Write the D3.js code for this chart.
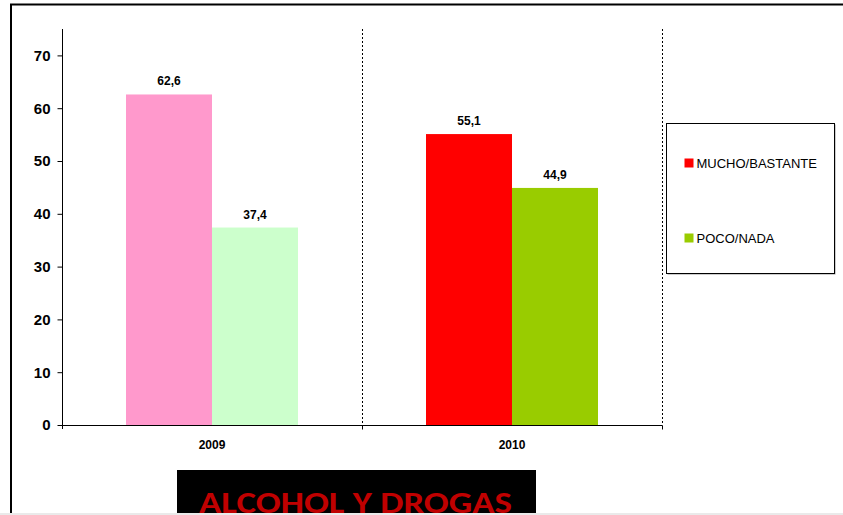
<!DOCTYPE html>
<html>
<head>
<meta charset="utf-8">
<script src="https://cdn.jsdelivr.net/npm/d3@7"></script>
<style>
  body { margin: 0; background: #fff; }
  svg { display: block; font-family: "Liberation Sans", Arial, sans-serif; }
</style>
</head>
<body>
<script>
// data
const categories = ["2009", "2010"];
const series = ["MUCHO/BASTANTE", "POCO/NADA"];
const muchoValues = [62.6, 55.1];
const pocoValues = [37.4, 44.9];
const yTicks = [0, 10, 20, 30, 40, 50, 60, 70];
const titleText = "ALCOHOL Y DROGAS";

// colours (2009 bars use lighter tones, legend shows 2010 tones)
const barColors = {
  "2009": ["#FF99CC", "#CCFFCC"],
  "2010": ["#FF0000", "#99CC00"]
};
const legendColors = ["#FF0000", "#99CC00"];

const width = 843, height = 515;
const plot = {left: 62, right: 662, top: 29, bottom: 425};

const svg = d3.select("body")
    .append("svg")
      .attr("width", width)
      .attr("height", height);

svg.append("rect")
    .attr("width", width)
    .attr("height", height)
    .attr("fill", "#fff");

// outer frame (top + left borders only are visible)
svg.append("path")
    .attr("d", "M11,515 V4.5 H843")
    .attr("fill", "none")
    .attr("stroke", "#000")
    .attr("stroke-width", 2);

// scales
const xScale = d3.scaleBand()
    .domain(categories)
    .range([plot.left, plot.right])
    .paddingInner(0)
    .paddingOuter(0);

const xSub = d3.scaleBand()
    .domain(series)
    .range([64, xScale.bandwidth() - 64]);

const yScale = d3.scaleLinear()
    .domain([0, 75])
    .range([plot.bottom, plot.top]);

const fmt = v => d3.format(".1f")(v).replace(".", ",");

const rows = categories.map((c, i) => ({
  category: c,
  values: [muchoValues[i], pocoValues[i]]
}));

// dotted separators at category ends
svg.append("g")
    .selectAll("line")
    .data(categories)
    .enter()
    .append("line")
      .attr("x1", d => xScale(d) + xScale.bandwidth() + 0.5)
      .attr("x2", d => xScale(d) + xScale.bandwidth() + 0.5)
      .attr("y1", plot.top)
      .attr("y2", plot.bottom)
      .attr("stroke", "#000")
      .attr("stroke-width", 1)
      .attr("stroke-dasharray", "2,2");

// bars
const groups = svg.append("g")
    .selectAll("g")
    .data(rows)
    .enter()
    .append("g")
      .attr("transform", d => "translate(" + xScale(d.category) + ",0)");

groups.selectAll("rect")
    .data(d => d.values.map((v, j) => ({cat: d.category, key: series[j], value: v, j: j})))
    .enter()
    .append("rect")
      .attr("x", d => xSub(d.key))
      .attr("y", d => yScale(d.value))
      .attr("width", xSub.bandwidth())
      .attr("height", d => yScale(0) - yScale(d.value))
      .attr("fill", d => barColors[d.cat][d.j]);

groups.selectAll("text")
    .data(d => d.values.map((v, j) => ({key: series[j], value: v})))
    .enter()
    .append("text")
      .attr("x", d => xSub(d.key) + xSub.bandwidth() / 2)
      .attr("y", d => yScale(d.value) - 9)
      .attr("text-anchor", "middle")
      .attr("font-size", 12)
      .attr("font-weight", "bold")
      .attr("fill", "#000")
      .text(d => fmt(d.value));

// y axis
const yAxis = svg.append("g")
    .attr("transform", "translate(" + (plot.left + 0.5) + ",0)")
    .call(d3.axisLeft(yScale).tickValues(yTicks).tickSize(5).tickPadding(7));
yAxis.select(".domain")
    .attr("d", "M0," + plot.top + "V" + (plot.bottom + 4));
yAxis.selectAll("text")
    .attr("font-size", 15)
    .attr("font-weight", "bold")
    .attr("font-family", "'Liberation Sans', Arial, sans-serif")
    .attr("fill", "#000");

// x axis
const xAxis = svg.append("g")
    .attr("transform", "translate(0," + (plot.bottom + 0.5) + ")")
    .call(d3.axisBottom(xScale).tickSize(0).tickPadding(15));
xAxis.select(".domain")
    .attr("d", "M" + plot.left + ",0H" + (plot.right + 0.5));
xAxis.selectAll("text")
    .attr("font-size", 12)
    .attr("font-weight", "bold")
    .attr("font-family", "'Liberation Sans', Arial, sans-serif")
    .attr("fill", "#000");
// small ticks at category boundaries
xAxis.append("g")
    .selectAll("line")
    .data(categories)
    .enter()
    .append("line")
      .attr("x1", d => xScale(d) + xScale.bandwidth() + 0.5)
      .attr("x2", d => xScale(d) + xScale.bandwidth() + 0.5)
      .attr("y1", 0)
      .attr("y2", 4)
      .attr("stroke", "#000");

// legend
const legend = svg.append("g")
    .attr("transform", "translate(666.5,123.5)");
legend.append("rect")
    .attr("x", 1).attr("y", 1)
    .attr("width", 168).attr("height", 150)
    .attr("fill", "#999");
legend.append("rect")
    .attr("width", 168).attr("height", 150)
    .attr("fill", "#fff")
    .attr("stroke", "#000")
    .attr("stroke-width", 1);
const legendItems = legend.selectAll("g.item")
    .data(series)
    .enter()
    .append("g")
      .attr("class", "item")
      .attr("transform", (d, i) => "translate(18," + (35 + i * 75) + ")");
legendItems.append("rect")
    .attr("width", 9).attr("height", 9)
    .attr("fill", (d, i) => legendColors[i]);
legendItems.append("text")
    .attr("x", 12)
    .attr("y", 9)
    .attr("font-size", 13)
    .attr("fill", "#000")
    .text(d => d);

// title block at the bottom
svg.append("rect")
    .attr("x", 177).attr("y", 470)
    .attr("width", 359).attr("height", 45)
    .attr("fill", "#000");
svg.append("text")
    .attr("x", 199)
    .attr("y", 513)
    .attr("font-family", "Carlito, Calibri, Lato, sans-serif")
    .attr("font-weight", "bold")
    .attr("font-size", 31)
    .attr("textLength", 313)
    .attr("lengthAdjust", "spacingAndGlyphs")
    .attr("fill", "#C00000")
    .text(titleText);

// bottom light strip
svg.append("rect")
    .attr("x", 0).attr("y", 513)
    .attr("width", width).attr("height", 2)
    .attr("fill", "#eaeaea");
</script>
</body>
</html>
